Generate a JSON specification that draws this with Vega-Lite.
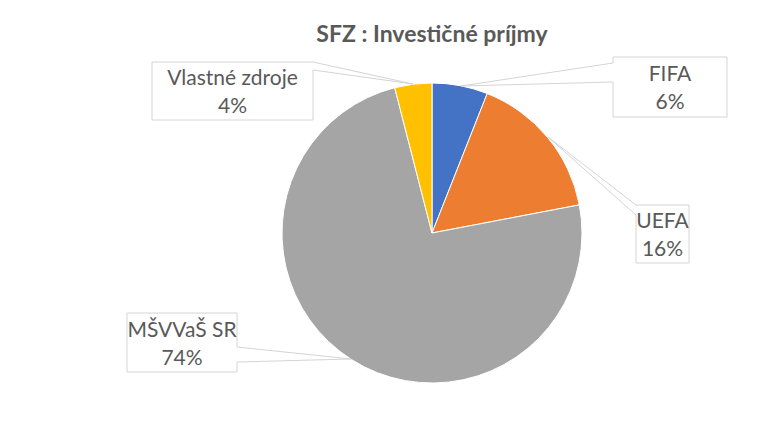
{
  "$schema": "https://vega.github.io/schema/vega-lite/v6.json",
  "width": 300,
  "height": 300,
  "autosize": {"type": "none"},
  "padding": {"left": 282, "top": 83, "right": 200, "bottom": 49},
  "background": "white",
  "title": {
    "text": "SFZ : Investičné príjmy",
    "font": "Lato",
    "fontSize": 23,
    "fontWeight": "bold",
    "color": "#595959",
    "anchor": "middle",
    "frame": "group",
    "offset": 8
  },
  "config": {"view": {"stroke": null}},
  "data": {
    "values": [
      {"category": "FIFA", "value": 6},
      {"category": "UEFA", "value": 16},
      {"category": "MŠVVaŠ SR", "value": 74},
      {"category": "Vlastné zdroje", "value": 4}
    ]
  },
  "transform": [
    {"joinaggregate": [{"op": "sum", "field": "value", "as": "total"}]},
    {"calculate": "[datum.category, format(datum.value / datum.total, '.0%')]", "as": "label"},
    {"calculate": "indexof(['FIFA', 'UEFA', 'MŠVVaŠ SR', 'Vlastné zdroje'], datum.category)", "as": "ord"}
  ],
  "layer": [
    {
      "mark": {"type": "arc", "stroke": "white", "strokeWidth": 1},
      "encoding": {
        "theta": {"field": "value", "type": "quantitative", "stack": true},
        "order": {"field": "ord", "type": "quantitative", "sort": "ascending"},
        "color": {
          "field": "category",
          "type": "nominal",
          "scale": {
            "domain": ["FIFA", "UEFA", "MŠVVaŠ SR", "Vlastné zdroje"],
            "range": ["#4472C4", "#ED7D31", "#A5A5A5", "#FFC000"]
          },
          "legend": null
        }
      }
    },
    {
      "mark": {"type": "point", "filled": true, "fill": "white", "stroke": "#D4D4D4", "strokeWidth": 1, "size": 4, "opacity": 1},
      "encoding": {
        "x": {"field": "value", "type": "quantitative", "axis": null,
          "scale": {"type": "linear", "domain": [4, 6, 16, 74], "range": [-49.5, 388, 380.5, -100], "zero": false, "nice": false}},
        "y": {"field": "value", "type": "quantitative", "axis": null,
          "scale": {"type": "linear", "domain": [4, 6, 16, 74], "range": [8, 4, 151, 259.5], "zero": false, "nice": false}},
        "shape": {
          "field": "category",
          "type": "nominal",
          "scale": {
            "domain": ["FIFA", "UEFA", "MŠVVaŠ SR", "Vlastné zdroje"],
            "range": [
              "M-57,-30H57V30H-57V-5L-209,-1L-57,-24Z",
              "M-26.5,-29H26.5V29H-26.5V-19L-114.5,-97Z",
              "M-55,-29.5H55V4.5L169,16.5L55,19.5V29.5H-55Z",
              "M-80.5,-29H80.5L180.5,-7L80.5,-21V29H-80.5Z"
            ]
          },
          "legend": null
        }
      }
    },
    {
      "mark": {"type": "text", "font": "Lato", "fontSize": 21, "color": "#595959", "lineHeight": 28, "baseline": "middle", "align": "center", "dy": -12},
      "encoding": {
        "x": {"field": "value", "type": "quantitative", "axis": null},
        "y": {"field": "value", "type": "quantitative", "axis": null},
        "text": {"field": "label"}
      }
    }
  ]
}
